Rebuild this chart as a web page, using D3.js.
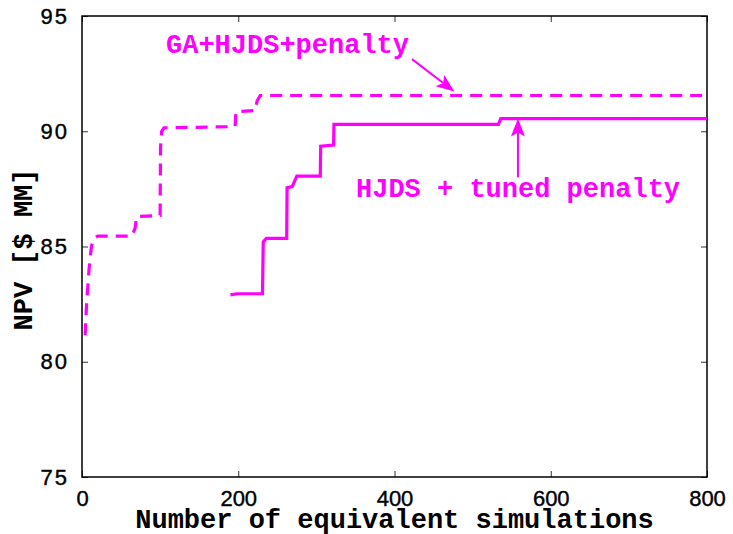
<!DOCTYPE html>
<html>
<head>
<meta charset="utf-8">
<script src="https://cdn.jsdelivr.net/npm/d3@7"></script>
<style>
  html, body { margin: 0; padding: 0; background: #fff; }
  svg { display: block; }
</style>
</head>
<body>
<svg id="chart" width="733" height="534"></svg>
<script>
// Best NPV found so far versus number of equivalent simulations
const gaSimulations = [4, 6, 9, 12, 15, 20, 64, 68, 70, 100, 100.5, 102, 105, 196, 197, 222, 224, 228, 800];
const gaNpv         = [81.15, 82.6, 84.0, 85.0, 85.35, 85.45, 85.45, 85.8, 86.3, 86.35, 89.3, 90.0, 90.15, 90.2, 90.85, 90.9, 91.3, 91.55, 91.55];

const hjdsSimulations = [190, 198, 231, 232, 236, 262, 262.5, 269, 273, 275, 305, 305.5, 322, 322.5, 533, 536, 800];
const hjdsNpv         = [82.9, 82.95, 82.95, 85.2, 85.35, 85.35, 87.55, 87.6, 87.9, 88.05, 88.05, 89.35, 89.4, 90.3, 90.3, 90.55, 90.55];

const xTicks = [0, 200, 400, 600, 800];
const yTicks = [75, 80, 85, 90, 95];

const xLabel = "Number of equivalent simulations";
const yLabel = "NPV [$ MM]";

// Annotation labels with arrow tail/tip positions in data units
const gaLabel = "GA+HJDS+penalty";
const gaLabelAt = [107.5, 93.4];
const gaArrow = [[422.4, 93.13], [476.5, 91.72]];

const hjdsLabel = "HJDS + tuned penalty";
const hjdsLabelAt = [350.7, 87.15];
const hjdsArrow = [[558, 88.0], [558, 90.55]];

const magenta = "#ff00ff";
const monoFont = "'Liberation Mono', 'Courier New', monospace";
const sansFont = "'Liberation Sans', Arial, sans-serif";

const svg = d3.select("#chart");
const plotLeft = 82, plotRight = 707, plotTop = 16, plotBottom = 477;

const x = d3.scaleLinear().domain([0, 800]).range([plotLeft, plotRight]);
const y = d3.scaleLinear().domain([75, 95]).range([plotBottom, plotTop]);

// Tick marks drawn inward on all four sides
const tickLen = 6;
const g = svg.append("g");

g.append("g")
  .attr("transform", `translate(0,${plotBottom})`)
  .call(d3.axisBottom(x).tickValues(xTicks).tickSize(-tickLen).tickPadding(13).tickFormat(d3.format("d")))
  .call(a => a.select(".domain").remove())
  .call(a => a.selectAll("line").attr("stroke", "#333"))
  .call(a => a.selectAll("text").attr("font-family", sansFont).attr("font-size", 22)
      .attr("fill", "#000").attr("stroke", "#000").attr("stroke-width", 0.4));

g.append("g")
  .attr("transform", `translate(0,${plotTop})`)
  .call(d3.axisTop(x).tickValues(xTicks).tickSize(-tickLen).tickFormat(""))
  .call(a => a.select(".domain").remove())
  .call(a => a.selectAll("line").attr("stroke", "#333"));

g.append("g")
  .attr("transform", `translate(${plotLeft},0)`)
  .call(d3.axisLeft(y).tickValues(yTicks).tickSize(-tickLen).tickPadding(13).tickFormat(d3.format("d")))
  .call(a => a.select(".domain").remove())
  .call(a => a.selectAll("line").attr("stroke", "#333"))
  .call(a => a.selectAll("text").attr("font-family", sansFont).attr("font-size", 22)
      .attr("letter-spacing", 2).attr("fill", "#000").attr("stroke", "#000").attr("stroke-width", 0.4));

g.append("g")
  .attr("transform", `translate(${plotRight},0)`)
  .call(d3.axisRight(y).tickValues(yTicks).tickSize(-tickLen).tickFormat(""))
  .call(a => a.select(".domain").remove())
  .call(a => a.selectAll("line").attr("stroke", "#333"));

// Plot frame
svg.append("rect")
  .attr("x", plotLeft).attr("y", plotTop)
  .attr("width", plotRight - plotLeft).attr("height", plotBottom - plotTop)
  .attr("fill", "none").attr("stroke", "#000").attr("stroke-width", 1.5);

// Series
const line = d3.line().x(d => x(d[0])).y(d => y(d[1]));

svg.append("path")
  .datum(d3.zip(gaSimulations, gaNpv))
  .attr("d", line)
  .attr("fill", "none")
  .attr("stroke", magenta)
  .attr("stroke-width", 3.2)
  .attr("stroke-dasharray", "12,8");

svg.append("path")
  .datum(d3.zip(hjdsSimulations, hjdsNpv))
  .attr("d", line)
  .attr("fill", "none")
  .attr("stroke", magenta)
  .attr("stroke-width", 3.2);

// Annotation arrows with notched heads
function arrow(pts) {
  const [x0, y0] = [x(pts[0][0]), y(pts[0][1])];
  const [x1, y1] = [x(pts[1][0]), y(pts[1][1])];
  const ang = Math.atan2(y1 - y0, x1 - x0);
  const headLen = 18, halfW = 7, notch = 4;
  const ux = Math.cos(ang), uy = Math.sin(ang);
  const px = -uy, py = ux;
  const bx = x1 - ux * headLen, by = y1 - uy * headLen;
  const nx = x1 - ux * (headLen - notch), ny = y1 - uy * (headLen - notch);
  svg.append("line")
    .attr("x1", x0).attr("y1", y0).attr("x2", nx).attr("y2", ny)
    .attr("stroke", magenta).attr("stroke-width", 2);
  svg.append("path")
    .attr("d", `M${x1},${y1}L${bx + px * halfW},${by + py * halfW}L${nx},${ny}L${bx - px * halfW},${by - py * halfW}Z`)
    .attr("fill", magenta);
}
arrow(gaArrow);
arrow(hjdsArrow);

// Annotation labels
svg.append("text")
  .attr("x", x(gaLabelAt[0])).attr("y", y(gaLabelAt[1]))
  .attr("font-family", monoFont).attr("font-weight", "bold").attr("font-size", 27)
  .attr("fill", magenta)
  .text(gaLabel);

svg.append("text")
  .attr("x", x(hjdsLabelAt[0])).attr("y", y(hjdsLabelAt[1]))
  .attr("font-family", monoFont).attr("font-weight", "bold").attr("font-size", 27)
  .attr("fill", magenta)
  .attr("xml:space", "preserve")
  .text(hjdsLabel);

// Axis titles
svg.append("text")
  .attr("x", (plotLeft + plotRight) / 2).attr("y", 528)
  .attr("text-anchor", "middle")
  .attr("font-family", monoFont).attr("font-weight", "bold").attr("font-size", 27)
  .attr("fill", "#000")
  .text(xLabel);

svg.append("text")
  .attr("transform", `translate(32,${(plotTop + plotBottom) / 2 + 3}) rotate(-90)`)
  .attr("text-anchor", "middle")
  .attr("font-family", monoFont).attr("font-weight", "bold").attr("font-size", 27)
  .attr("fill", "#000")
  .text(yLabel);
</script>
</body>
</html>
